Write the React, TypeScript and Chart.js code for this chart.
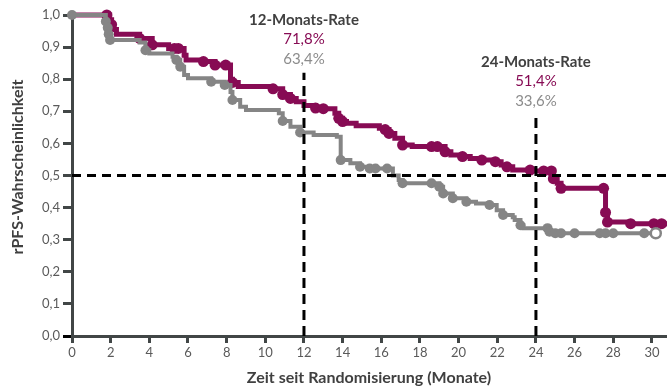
import React, { useEffect, useRef } from "react";
import { Chart, registerables } from "chart.js";
Chart.register(...registerables);

// ---- data ----
const xTickValues = [0, 2, 4, 6, 8, 10, 12, 14, 16, 18, 20, 22, 24, 26, 28, 30];
const yTickValues = [0, 0.1, 0.2, 0.3, 0.4, 0.5, 0.6, 0.7, 0.8, 0.9, 1.0];

// magenta arm: time (months), survival, censored flag
const magentaT = [0, 1.8, 1.95, 2.05, 2.15, 2.3, 3.5, 4.15, 5.0, 5.3, 5.5, 5.8, 5.9, 6.8, 7.4, 7.95, 8.2, 8.3, 8.6, 10.4, 10.9, 11.3, 11.6, 12.0, 12.6, 13.0, 13.6, 13.8, 14.0, 14.2, 14.7, 15.9, 16.2, 16.4, 16.7, 17.1, 17.6, 18.6, 18.9, 19.3, 19.6, 20.2, 20.6, 21.2, 21.9, 22.2, 22.5, 22.8, 23.7, 23.85, 24.4, 24.8, 24.9, 25.1, 25.3, 27.5, 27.6, 27.7, 28.9, 30.1, 30.5, 30.8];
const magentaS = [1.0, 1.0, 0.985, 0.97, 0.955, 0.94, 0.927, 0.907, 0.896, 0.896, 0.896, 0.875, 0.86, 0.855, 0.844, 0.844, 0.8, 0.79, 0.777, 0.77, 0.752, 0.74, 0.73, 0.718, 0.71, 0.708, 0.694, 0.678, 0.668, 0.663, 0.655, 0.647, 0.643, 0.631, 0.616, 0.595, 0.59, 0.59, 0.59, 0.574, 0.564, 0.559, 0.553, 0.548, 0.543, 0.533, 0.527, 0.517, 0.517, 0.514, 0.514, 0.514, 0.49, 0.476, 0.46, 0.46, 0.385, 0.355, 0.35, 0.35, 0.35, 0.35];
const magentaC = [0, 1, 0, 1, 0, 0, 1, 1, 0, 1, 1, 0, 0, 1, 1, 1, 0, 1, 0, 1, 1, 1, 0, 0, 1, 1, 0, 1, 1, 0, 0, 0, 1, 1, 0, 1, 0, 1, 1, 1, 0, 1, 0, 1, 1, 0, 1, 0, 1, 0, 1, 1, 1, 0, 1, 1, 1, 1, 1, 1, 1, 0];

// grey arm: time, survival, censored flag (2 = open marker)
const greyT = [0, 1.7, 1.75, 1.85, 1.9, 1.97, 3.5, 3.8, 4.0, 5.2, 5.4, 5.6, 5.8, 6.0, 7.2, 7.9, 8.2, 8.3, 8.7, 9.0, 10.7, 10.9, 11.3, 11.8, 12.5, 13.7, 13.9, 14.4, 14.9, 15.4, 15.7, 16.3, 16.6, 16.9, 17.1, 17.6, 18.6, 19.0, 19.2, 19.7, 20.4, 20.9, 21.6, 21.97, 22.3, 22.8, 22.9, 23.2, 23.35, 24.6, 24.7, 25.0, 25.3, 26.0, 27.3, 27.6, 28.0, 29.6, 30.2];
const greyS = [1.0, 1.0, 0.98, 0.96, 0.94, 0.922, 0.914, 0.89, 0.88, 0.87, 0.86, 0.839, 0.813, 0.803, 0.792, 0.782, 0.76, 0.735, 0.714, 0.704, 0.694, 0.67, 0.652, 0.634, 0.626, 0.621, 0.548, 0.538, 0.527, 0.522, 0.522, 0.522, 0.5, 0.486, 0.476, 0.476, 0.476, 0.465, 0.444, 0.429, 0.418, 0.413, 0.408, 0.392, 0.377, 0.37, 0.361, 0.345, 0.336, 0.336, 0.325, 0.32, 0.32, 0.32, 0.32, 0.32, 0.32, 0.32, 0.32];
const greyC = [1, 0, 1, 1, 1, 1, 0, 1, 0, 0, 1, 1, 0, 0, 1, 1, 0, 1, 0, 0, 0, 1, 0, 1, 0, 0, 1, 0, 1, 1, 1, 1, 0, 0, 1, 0, 1, 1, 1, 1, 1, 0, 1, 0, 1, 0, 0, 1, 0, 1, 1, 1, 1, 1, 1, 1, 1, 1, 2];

// reference lines
const refHorizontalX = [0, 30.8];
const refHorizontalY = [0.5, 0.5];
const ref12X = [12, 12];
const ref12Y = [0, 0.82];
const ref24X = [24, 24];
const ref24Y = [0, 0.685];

// annotation texts
const rateLabels = [
  { month: 12, title: "12-Monats-Rate", magenta: "71,8%", grey: "63,4%" },
  { month: 24, title: "24-Monats-Rate", magenta: "51,4%", grey: "33,6%" },
];

const xAxisTitle = "Zeit seit Randomisierung (Monate)";
const yAxisTitle = "rPFS-Wahrscheinlichkeit";

// ---- styles ----
const MAGENTA = "#870b54";
const GREY = "#858585";
const AXIS = "#414646";
const TICKTXT = "#5a5a5a";
const TITLE = "#404040";
const FONT = "Lato";

const toPts = (xs: number[], ys: number[]) => xs.map((x, i) => ({ x, y: ys[i] }));

export default function App() {
  const ref = useRef<HTMLCanvasElement | null>(null);

  useEffect(() => {
    document.body.style.margin = "0";
    const canvas = ref.current;
    if (!canvas) return;

    const textPlugin = {
      id: "texts",
      afterDraw(chart: any) {
        const ctx = chart.ctx;
        const xs = chart.scales.x;
        ctx.save();
        ctx.textAlign = "center";
        ctx.textBaseline = "middle";
        const offsets = [20, 62];
        rateLabels.forEach((r, i) => {
          const cx = xs.getPixelForValue(r.month);
          const top = offsets[i];
          ctx.font = `bold 15px ${FONT}`;
          ctx.fillStyle = TITLE;
          ctx.fillText(r.title, cx, top);
          ctx.font = `15px ${FONT}`;
          ctx.fillStyle = MAGENTA;
          ctx.fillText(r.magenta, cx, top + 19.5);
          ctx.fillStyle = "#8c8c8c";
          ctx.fillText(r.grey, cx, top + 39);
        });
        // axis titles
        ctx.font = `bold 16px ${FONT}`;
        ctx.fillStyle = TITLE;
        ctx.fillText(xAxisTitle, 369, 378);
        ctx.translate(18, 167);
        ctx.rotate(-Math.PI / 2);
        ctx.fillText(yAxisTitle, 0, 0);
        ctx.restore();
      },
    };

    const dashStyle = {
      borderColor: "#000",
      borderWidth: 3,
      pointRadius: 0,
      fill: false,
      order: 0,
    };

    const chart = new Chart(canvas, {
      type: "line",
      data: {
        datasets: [
          { ...dashStyle, data: toPts(refHorizontalX, refHorizontalY), borderDash: [9, 6] },
          { ...dashStyle, data: toPts(ref12X, ref12Y), borderDash: [10, 6] },
          { ...dashStyle, data: toPts(ref24X, ref24Y), borderDash: [10, 6] },
          {
            data: toPts(greyT, greyS),
            borderColor: GREY,
            borderWidth: 4,
            stepped: "before",
            pointRadius: (c: any) => (greyC[c.dataIndex] ? 5 : 0),
            pointBackgroundColor: (c: any) => (greyC[c.dataIndex] === 2 ? "#ffffff" : GREY),
            pointBorderColor: GREY,
            pointBorderWidth: (c: any) => (greyC[c.dataIndex] === 2 ? 2.5 : 0),
            fill: false,
            clip: false as any,
            order: 1,
          },
          {
            data: toPts(magentaT, magentaS),
            borderColor: MAGENTA,
            borderWidth: 5,
            stepped: "before",
            pointRadius: (c: any) => (magentaC[c.dataIndex] ? 5.5 : 0),
            pointBackgroundColor: MAGENTA,
            pointBorderWidth: 0,
            fill: false,
            clip: false as any,
            order: 2,
          },
        ] as any,
      },
      options: {
        animation: false,
        responsive: false,
        devicePixelRatio: 1,
        events: [],
        layout: { autoPadding: false, padding: { top: 15, right: 0, left: 0, bottom: 0 } },
        plugins: { legend: { display: false }, tooltip: { enabled: false } },
        scales: {
          x: {
            type: "linear",
            min: 0,
            max: 30.78,
            afterBuildTicks: (s: any) => {
              s.ticks = xTickValues.map((v) => ({ value: v }));
            },
            afterFit: (s: any) => {
              s.height = 52;
              s.paddingLeft = 0;
              s.paddingRight = 0;
            },
            ticks: {
              callback: (v: any) => String(v),
              color: TICKTXT,
              font: { family: FONT, size: 13 },
              padding: 2,
              maxRotation: 0,
              autoSkip: false,
            },
            grid: {
              display: true,
              drawOnChartArea: false,
              drawTicks: true,
              tickLength: 7,
              lineWidth: 3,
              color: AXIS,
            },
            border: { display: true, color: AXIS, width: 3 },
          },
          y: {
            type: "linear",
            min: 0,
            max: 1,
            afterBuildTicks: (s: any) => {
              s.ticks = yTickValues.map((v) => ({ value: v }));
            },
            afterFit: (s: any) => {
              s.width = 72;
              s.paddingTop = 0;
              s.paddingBottom = 0;
            },
            ticks: {
              callback: (v: any) => Number(v).toFixed(1).replace(".", ","),
              color: TICKTXT,
              font: { family: FONT, size: 13 },
              padding: 3,
              autoSkip: false,
            },
            grid: {
              display: true,
              drawOnChartArea: false,
              drawTicks: true,
              tickLength: 9,
              lineWidth: 3,
              color: (c: any) => (c.tick && c.tick.value === 0 ? "#000" : AXIS),
            },
            border: { display: true, color: AXIS, width: 3 },
          },
        },
      } as any,
      plugins: [textPlugin],
    });

    return () => chart.destroy();
  }, []);

  return (
    <div style={{ width: 667, height: 388 }}>
      <canvas ref={ref} width={667} height={388} style={{ display: "block", width: 667, height: 388 }} />
    </div>
  );
}
